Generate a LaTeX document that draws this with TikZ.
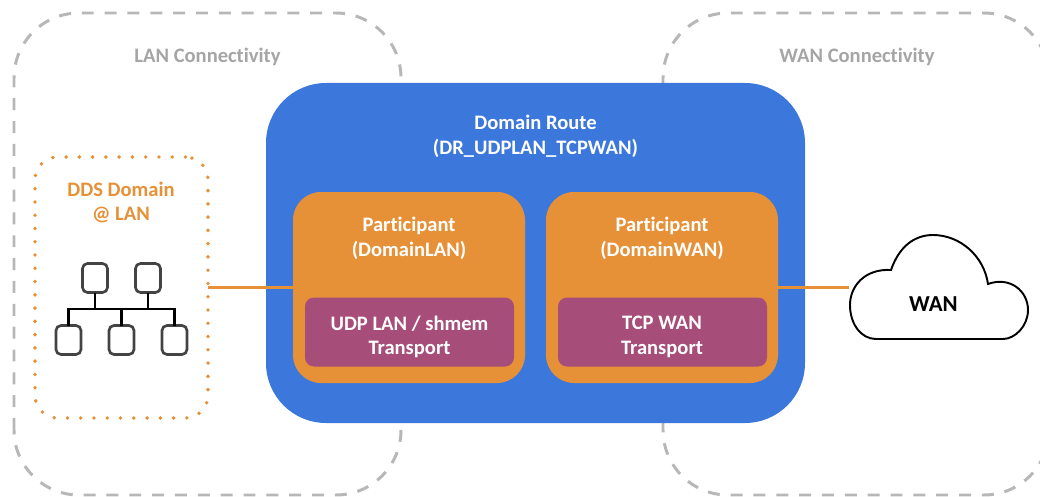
\documentclass[tikz,border=0pt]{standalone}
\usepackage{fontspec}
\setmainfont[Ligatures=NoCommon]{Carlito}
\usetikzlibrary{positioning}
\definecolor{routeblue}{HTML}{3C78DB}
\definecolor{partorange}{HTML}{E69138}
\definecolor{transpurple}{HTML}{A64D79}
\definecolor{zonegray}{HTML}{B7B7B7}
\definecolor{icongray}{HTML}{434343}
\newcommand{\labelfont}{\bfseries\fontsize{11.7}{13.9}\selectfont}
\tikzset{
  zone/.style={draw=zonegray, line width=1.7pt, dash pattern=on 6.8pt off 6.2pt, rounded corners=1.3cm},
  zonetext/.style={text=zonegray!90!black, font=\labelfont},
  part/.style={fill=partorange, rounded corners=.56cm, minimum width=4.64cm, minimum height=3.82cm, inner sep=0pt, outer sep=0pt},
  trans/.style={fill=transpurple, rounded corners=.18cm, minimum width=4.18cm, minimum height=1.38cm, inner sep=0pt, outer sep=0pt},
  white text/.style={text=white, align=center, font=\labelfont},
  host/.style={draw=icongray, line width=1.5pt, rounded corners=.1cm, minimum width=.5cm, minimum height=.58cm, inner sep=0pt, outer sep=0pt},
  link/.style={draw=partorange, line width=1.4pt}
}
\begin{document}
\begin{tikzpicture}
\clip (0,0) rectangle (20.8,9.92);

\draw[zone] (.28,.02) rectangle (8.02,9.66);
\draw[zone] (13.26,.02) rectangle (20.98,9.66);
\node[zonetext] (lanzone) at (4.15,8.79) {LAN Connectivity};
\node[zonetext] (wanzone) at (17.14,8.79) {WAN Connectivity};

\node[fill=routeblue, rounded corners=1.2cm, minimum width=10.78cm, minimum height=6.8cm, inner sep=0pt] (route) at (10.71,4.86) {};
\node[white text] (routetext) at (10.71,7.19) {Domain Route\\(DR\_UDPLAN\_TCPWAN)};

\node[part] (partlan) at (8.18,4.17) {};
\node[part] (partwan) at (13.24,4.17) {};
\node[white text] (partlantext) at (8.18,5.15) {Participant\\(DomainLAN)};
\node[white text] (partwantext) at (13.24,5.15) {Participant\\(DomainWAN)};
\node[trans] (translan) at (8.19,3.28) {};
\node[trans] (transwan) at (13.25,3.28) {};
\node[white text] (translantext) at (8.19,3.18) {UDP LAN / shmem\\Transport};
\node[white text] (transwantext) at (13.24,3.18) {TCP WAN\\Transport};

\node[draw=partorange, line width=2.2pt, line cap=round, dash pattern=on 0pt off 7.55pt, rounded corners=.45cm, minimum width=3.46cm, minimum height=5.22cm, inner sep=0pt, outer sep=0pt] (ddslan) at (2.43,4.17) {};
\node[text=partorange, align=center, font=\labelfont] (ddstext) at (2.42,5.87) {DDS Domain\\@ LAN};

\node[host] (hosta) at (1.9,4.36) {};
\node[host] (hostb) at (2.96,4.36) {};
\node[host] (hostc) at (1.37,3.12) {};
\node[host] (hostd) at (2.43,3.12) {};
\node[host] (hoste) at (3.49,3.12) {};
\coordinate (bus) at (2.43,3.74);
\draw[black, line width=1.2pt] (hostc.north) |- (bus) -| (hoste.north);
\draw[black, line width=1.2pt] (hostd.north) -- (bus);
\draw[black, line width=1.7pt] (hosta.south) -- (hosta.south |- bus);
\draw[black, line width=1.7pt] (hostb.south) -- (hostb.south |- bus);

\draw[black, line width=1.1pt, fill=white] (17.52,3.14) .. controls (17.22,3.14) and (17,3.44) .. (17,3.82) .. controls (17,4.2) and (17.3,4.55) .. (17.82,4.52) .. controls (17.98,4.98) and (18.28,5.22) .. (18.66,5.22) .. controls (19.2,5.22) and (19.68,4.8) .. (19.76,4.24) .. controls (20.2,4.4) and (20.56,4.1) .. (20.56,3.72) .. controls (20.56,3.4) and (20.3,3.14) .. (20.06,3.14) -- cycle;
\node[font=\bfseries\fontsize{13}{15}\selectfont, inner sep=0pt] (wan) at (18.67,3.84) {WAN};
\coordinate (cloud) at (16.98,4.17);

\draw[link] (ddslan.east) -- (partlan.west);
\draw[link] (partwan.east) -- (cloud);
\end{tikzpicture}
\end{document}
